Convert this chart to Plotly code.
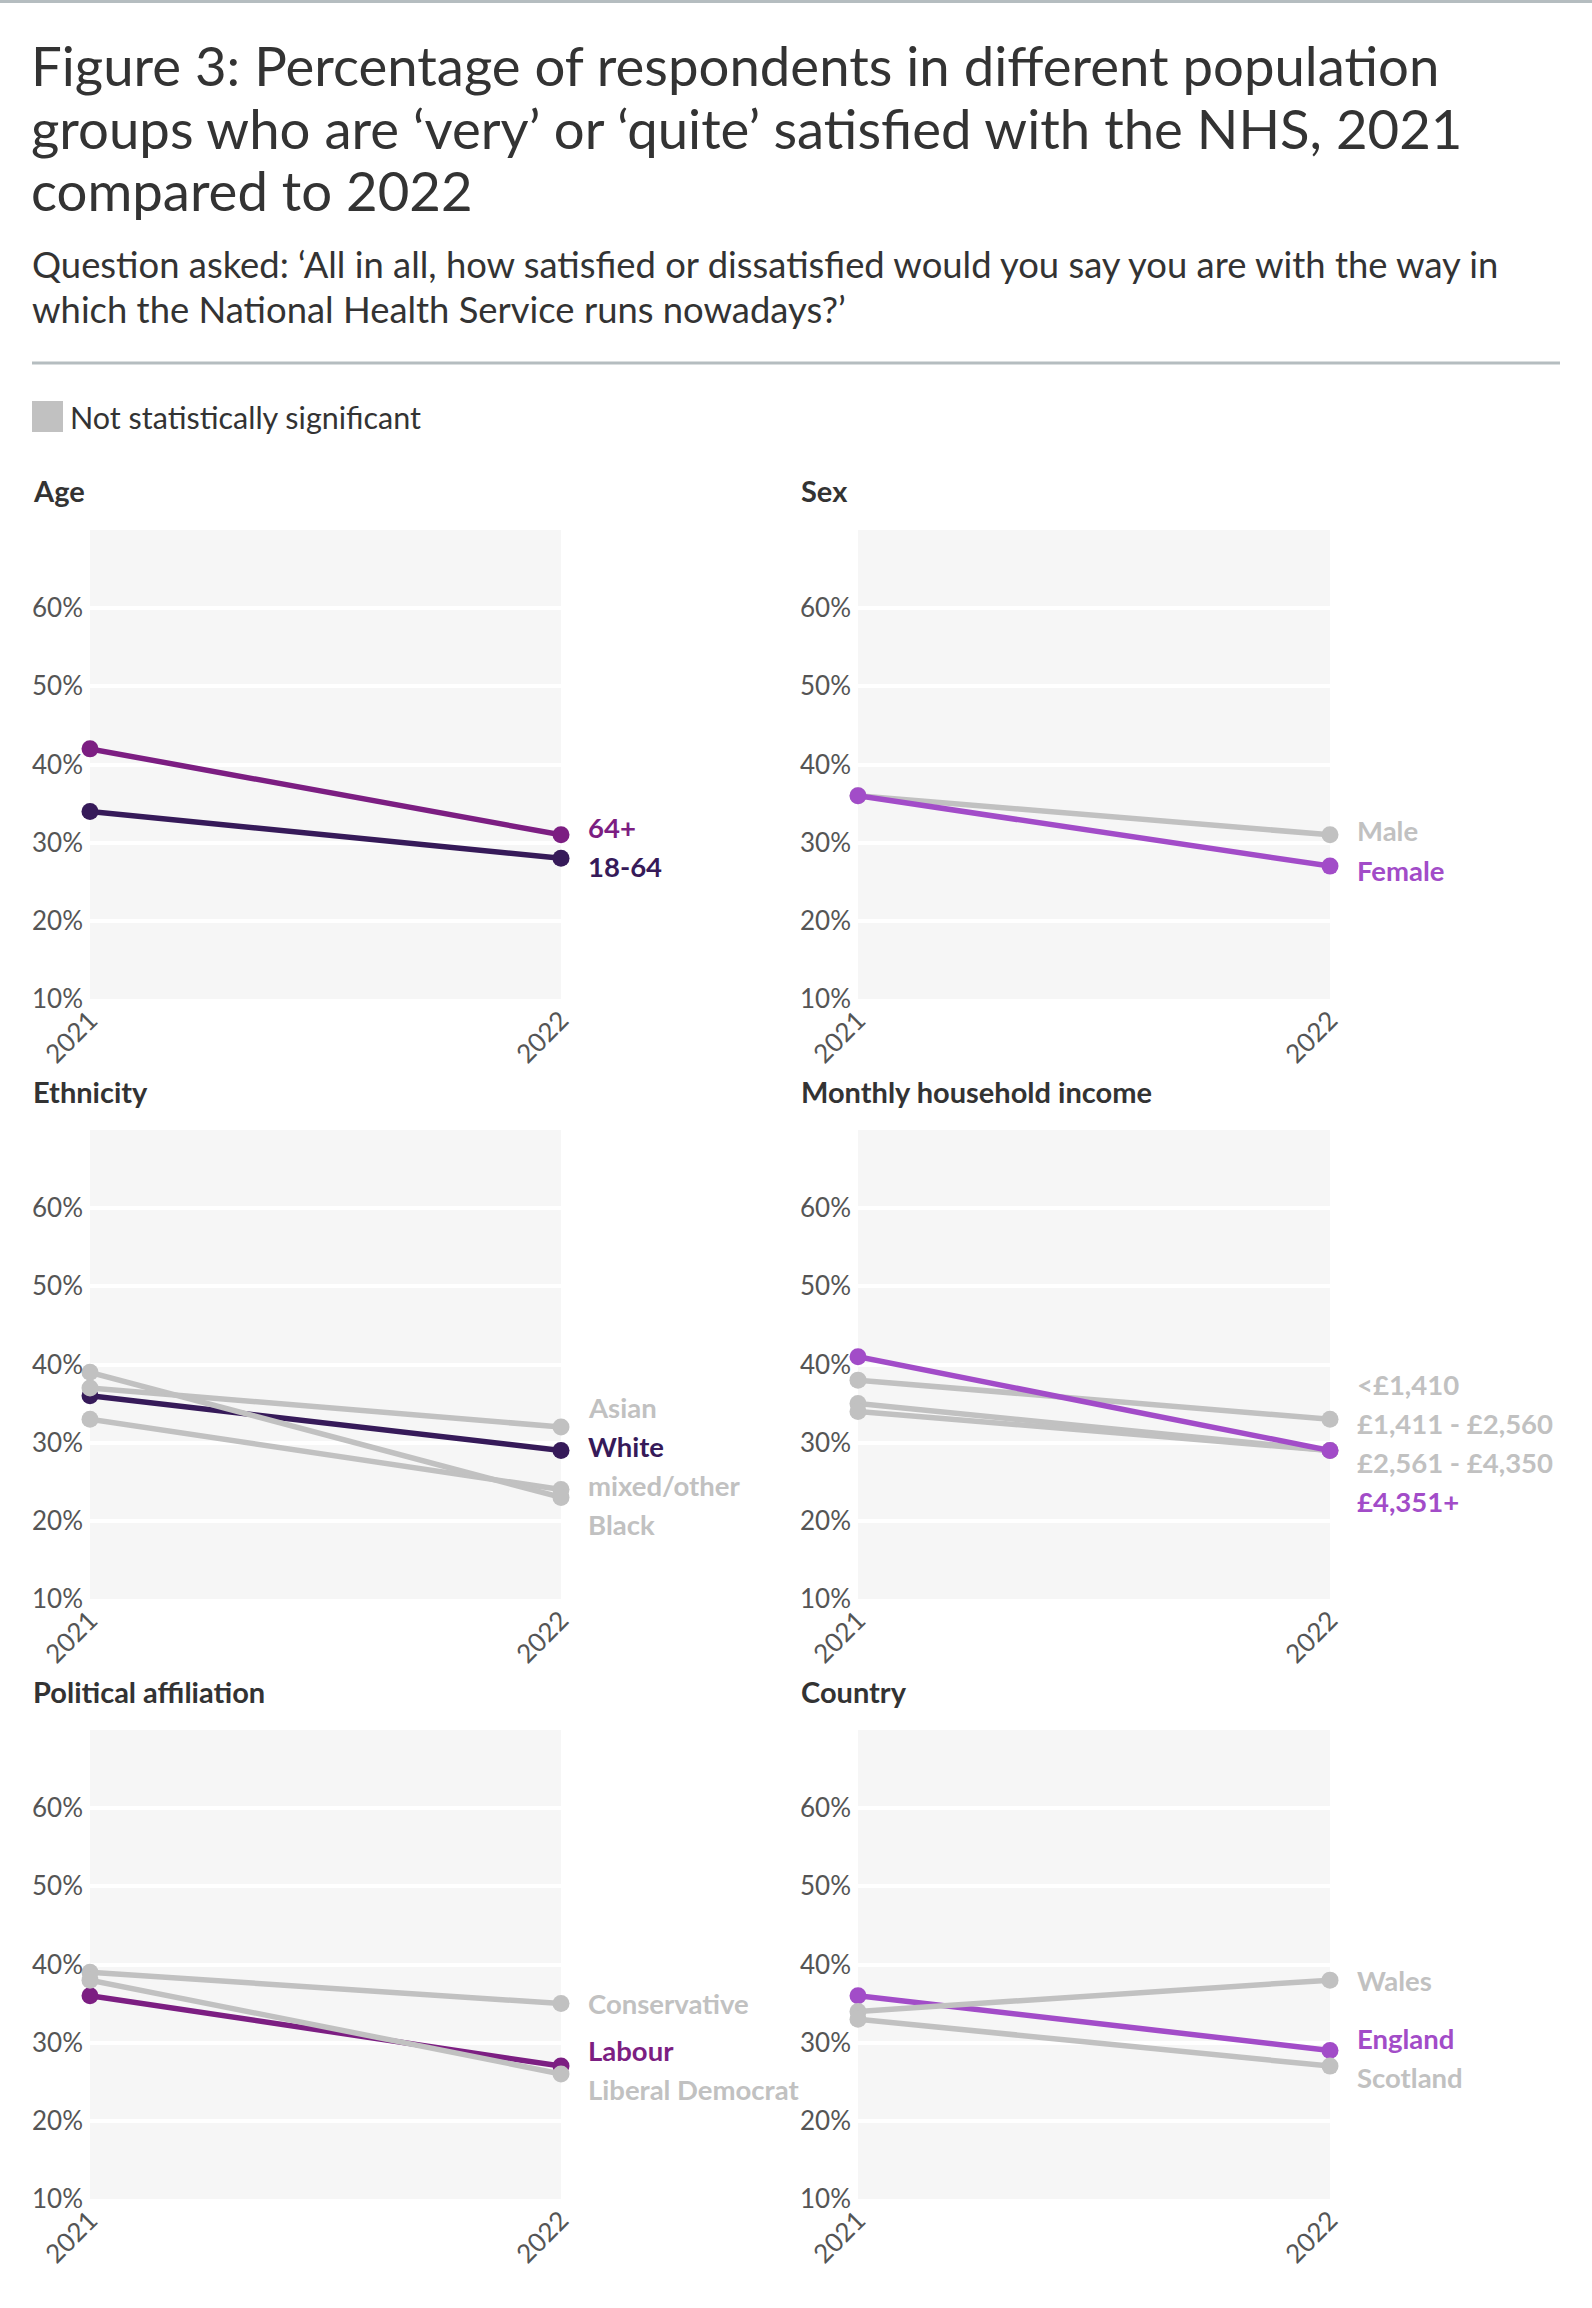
"""
Satisfaction with the NHS by population group, 2021 vs 2022.
Six small slope charts laid out in a 2 x 3 grid.
"""
import plotly.graph_objects as go

# ---- data -----------------------------------------------------------------
YEARS = [2021, 2022]

AGE_GROUPS = ["64+", "18-64"]
AGE_2021 = [42, 34]
AGE_2022 = [31, 28]

SEX_GROUPS = ["Male", "Female"]
SEX_2021 = [36, 36]
SEX_2022 = [31, 27]

ETHNICITY_GROUPS = ["White", "Asian", "mixed/other", "Black"]
ETHNICITY_2021 = [36, 37, 33, 39]
ETHNICITY_2022 = [29, 32, 24, 23]

INCOME_GROUPS = ["<£1,410", "£1,411 - £2,560", "£2,561 - £4,350", "£4,351+"]
INCOME_2021 = [38, 35, 34, 41]
INCOME_2022 = [33, 29, 29, 29]

PARTY_GROUPS = ["Labour", "Conservative", "Liberal Democrat"]
PARTY_2021 = [36, 39, 38]
PARTY_2022 = [27, 35, 26]

COUNTRY_GROUPS = ["England", "Wales", "Scotland"]
COUNTRY_2021 = [36, 34, 33]
COUNTRY_2022 = [29, 38, 27]

Y_TICKS = [10, 20, 30, 40, 50, 60]
Y_TICK_LABELS = ["10%", "20%", "30%", "40%", "50%", "60%"]

TITLE_LINES = [
    "Figure 3: Percentage of respondents in different population",
    "groups who are ‘very’ or ‘quite’ satisfied with the NHS, 2021",
    "compared to 2022",
]
SUBTITLE_LINES = [
    "Question asked: ‘All in all, how satisfied or dissatisfied would you say you are with the way in",
    "which the National Health Service runs nowadays?’",
]
LEGEND_TEXT = "Not statistically significant"

# ---- styles ---------------------------------------------------------------
GREY = "#c1c1c1"
DARK = "#361a59"
PURPLE = "#7c1e82"
LILAC = "#a24cc8"
HIGHLIGHT = {
    "64+": PURPLE,
    "18-64": DARK,
    "Female": LILAC,
    "White": DARK,
    "£4,351+": LILAC,
    "Labour": PURPLE,
    "England": LILAC,
}
FONT = "Lato"
TEXT = "#333333"
TICK = "#555555"

W, H = 1592, 2308
COLS = [(90, 561), (858, 1330)]
ROW_TOPS = [530, 1130, 1730]
PLOT_H = 469
LABEL_GAP = 5  # min distance between end labels, in % points

panels = [
    ("Age", AGE_GROUPS, AGE_2021, AGE_2022),
    ("Sex", SEX_GROUPS, SEX_2021, SEX_2022),
    ("Ethnicity", ETHNICITY_GROUPS, ETHNICITY_2021, ETHNICITY_2022),
    ("Monthly household income", INCOME_GROUPS, INCOME_2021, INCOME_2022),
    ("Political affiliation", PARTY_GROUPS, PARTY_2021, PARTY_2022),
    ("Country", COUNTRY_GROUPS, COUNTRY_2021, COUNTRY_2022),
]


def px_x(x):
    return x / W


def px_y(y):
    return 1 - y / H


def dodge(values, gap):
    """Spread label positions so they are at least `gap` apart."""
    order = sorted(range(len(values)), key=lambda i: -values[i])
    clusters = [[i] for i in order]
    changed = True
    while changed:
        changed = False
        for k in range(len(clusters) - 1):
            a, b = clusters[k], clusters[k + 1]
            ca = sum(values[i] for i in a) / len(a)
            cb = sum(values[i] for i in b) / len(b)
            low_a = ca - (len(a) - 1) / 2 * gap
            high_b = cb + (len(b) - 1) / 2 * gap
            if low_a - high_b < gap:
                clusters[k] = a + b
                del clusters[k + 1]
                changed = True
                break
    pos = [0] * len(values)
    for c in clusters:
        centre = sum(values[i] for i in c) / len(c)
        for j, i in enumerate(c):
            pos[i] = centre + ((len(c) - 1) / 2 - j) * gap
    return pos


fig = go.Figure()
annotations = []
layout_axes = {}

for n, (name, groups, v21, v22) in enumerate(panels):
    row, col = divmod(n, 2)
    idx = n + 1
    xa = "x" if idx == 1 else f"x{idx}"
    ya = "y" if idx == 1 else f"y{idx}"
    left, right = COLS[col]
    top = ROW_TOPS[row]

    layout_axes[f"xaxis{'' if idx == 1 else idx}"] = dict(
        domain=[px_x(left), px_x(right)], anchor=ya,
        range=[2021, 2022], tickvals=YEARS, ticktext=[str(y) for y in YEARS],
        tickangle=-45, showgrid=False, zeroline=False, showline=False,
        ticks="", tickfont=dict(family=FONT, size=26, color=TICK),
        automargin=False, fixedrange=True,
    )
    layout_axes[f"yaxis{'' if idx == 1 else idx}"] = dict(
        domain=[px_y(top + PLOT_H), px_y(top)], anchor=xa,
        range=[10, 70], tickvals=Y_TICKS, ticktext=Y_TICK_LABELS,
        showgrid=True, gridcolor="white", gridwidth=4,
        zeroline=False, showline=False, ticks="",
        ticklabelstandoff=6,
        tickfont=dict(family=FONT, size=26, color=TICK),
        automargin=False, fixedrange=True,
    )

    for g, a, b in zip(groups, v21, v22):
        colour = HIGHLIGHT.get(g, GREY)
        fig.add_trace(go.Scatter(
            x=YEARS, y=[a, b], mode="lines+markers",
            line=dict(color=colour, width=5.5),
            marker=dict(color=colour, size=17),
            xaxis=xa, yaxis=ya, cliponaxis=False,
            showlegend=False, hoverinfo="skip",
        ))

    label_y = dodge(v22, LABEL_GAP)
    for g, ly in zip(groups, label_y):
        annotations.append(dict(
            x=2022, y=ly, xref=xa, yref=ya, xanchor="left", yanchor="middle",
            xshift=25, showarrow=False, text=f"<b>{g}</b>",
            font=dict(family=FONT, size=27.5, color=HIGHLIGHT.get(g, GREY)),
        ))

    annotations.append(dict(
        x=px_x(31 if col == 0 else 799), y=px_y(top - 39),
        xref="paper", yref="paper", xanchor="left", yanchor="middle",
        showarrow=False, text=f"<b>{name}</b>",
        font=dict(family=FONT, size=29, color=TEXT),
    ))

# title, subtitle and legend
for line, yc in zip(TITLE_LINES, [65, 128, 190]):
    annotations.append(dict(
        x=px_x(29), y=px_y(yc), xref="paper", yref="paper",
        xanchor="left", yanchor="middle", showarrow=False, text=line,
        font=dict(family=FONT, size=54.5, color=TEXT),
    ))
for line, yc in zip(SUBTITLE_LINES, [264, 309]):
    annotations.append(dict(
        x=px_x(30), y=px_y(yc), xref="paper", yref="paper",
        xanchor="left", yanchor="middle", showarrow=False, text=line,
        font=dict(family=FONT, size=36.4, color=TEXT),
    ))
annotations.append(dict(
    x=px_x(68), y=px_y(417), xref="paper", yref="paper",
    xanchor="left", yanchor="middle", showarrow=False, text=LEGEND_TEXT,
    font=dict(family=FONT, size=30.5, color=TEXT),
))

shapes = [
    dict(type="rect", xref="paper", yref="paper", x0=0, x1=1,
         y0=px_y(3), y1=1, fillcolor="#b5bdc0", line_width=0),
    dict(type="line", xref="paper", yref="paper", x0=px_x(32), x1=px_x(1560),
         y0=px_y(363), y1=px_y(363), line=dict(color="#b5bdc0", width=3)),
    dict(type="rect", xref="paper", yref="paper", x0=px_x(32), x1=px_x(63),
         y0=px_y(432), y1=px_y(401), fillcolor=GREY, line_width=0),
]

fig.update_layout(
    width=W, height=H,
    margin=dict(l=0, r=0, t=0, b=0, autoexpand=False),
    paper_bgcolor="white", plot_bgcolor="#f6f6f6",
    font=dict(family=FONT, color=TEXT),
    annotations=annotations, shapes=shapes,
    **layout_axes,
)

# drop the default page margin so the figure sits at the window's corner
fig.write_html("out.html", config={"displayModeBar": False},
               post_script="document.body.style.margin = '0';")
